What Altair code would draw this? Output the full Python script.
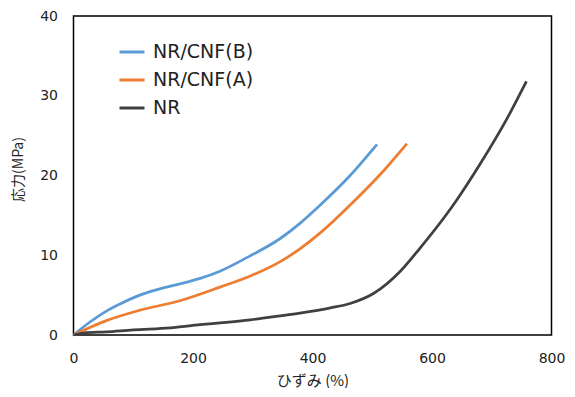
import altair as alt
import pandas as pd

series_names = ["NR/CNF(B)", "NR/CNF(A)", "NR"]
series_colors = ["#5B9BD5", "#ED7D31", "#404040"]

b_strain = [0, 27, 55, 78, 111, 150, 183, 212, 245, 290, 346, 379, 413, 463, 508]
b_stress = [0, 1.6, 3.0, 3.9, 5.0, 5.9, 6.5, 7.1, 8.0, 9.7, 12.1, 14.0, 16.3, 20.0, 23.9]

a_strain = [0, 55, 111, 178, 245, 296, 346, 379, 413, 463, 519, 558]
a_stress = [0, 1.8, 3.1, 4.3, 6.0, 7.4, 9.2, 10.8, 12.8, 16.3, 20.6, 24.0]

n_strain = [0, 17, 55, 100, 162, 212, 250, 296, 346, 379, 430, 463, 502, 547, 580, 625, 642, 681, 726, 758]
n_stress = [0, 0.25, 0.4, 0.65, 0.9, 1.3, 1.55, 1.9, 2.4, 2.75, 3.4, 3.95, 5.2, 8.0, 10.9, 15.2, 17.0, 21.5, 27.2, 31.8]

x_ticks = [0, 200, 400, 600, 800]
y_ticks = [0, 10, 20, 30, 40]

rows = []
for name, xs, ys in zip(series_names, [b_strain, a_strain, n_strain], [b_stress, a_stress, n_stress]):
    for x, y in zip(xs, ys):
        rows.append({"series": name, "strain": x, "stress": y})
df = pd.DataFrame(rows)

chart = alt.Chart(df).mark_line(strokeWidth=2.75, interpolate="monotone").encode(
    x=alt.X("strain:Q",
            scale=alt.Scale(domain=[0, 800], nice=False),
            axis=alt.Axis(values=x_ticks, title="ひずみ (%)", labelPadding=16, labelFlush=False,
                          titleY=45, titleBaseline="middle", titleFontSize=15)),
    y=alt.Y("stress:Q",
            scale=alt.Scale(domain=[0, 40], nice=False),
            axis=alt.Axis(values=y_ticks, title="応力(MPa)", labelPadding=16, labelFlush=False,
                          titleX=-55, titleY=153, titleBaseline="middle", titleFontSize=14)),
    color=alt.Color("series:N",
                    scale=alt.Scale(domain=series_names, range=series_colors),
                    legend=alt.Legend(title=None, orient="none", legendX=44.5, legendY=22,
                                      symbolType="stroke", symbolSize=625, symbolStrokeWidth=3,
                                      labelFont="DejaVu Sans", labelFontSize=19, labelColor="#222",
                                      labelOffset=7, rowPadding=4, padding=0)),
).properties(
    width=478, height=319,
    autosize="none",
    padding={"left": 65.5, "top": 8, "right": 15, "bottom": 53},
).configure_view(
    stroke="black", strokeWidth=1.5
).configure_axis(
    grid=False, domain=False, ticks=False, tickSize=0,
    labelFont="DejaVu Sans", labelFontSize=14, labelColor="#222",
    titleFont="Noto Sans CJK JP", titleFontWeight="normal", titleColor="#222",
)

chart.save("out.html", embed_options={"renderer": "svg", "actions": False})
